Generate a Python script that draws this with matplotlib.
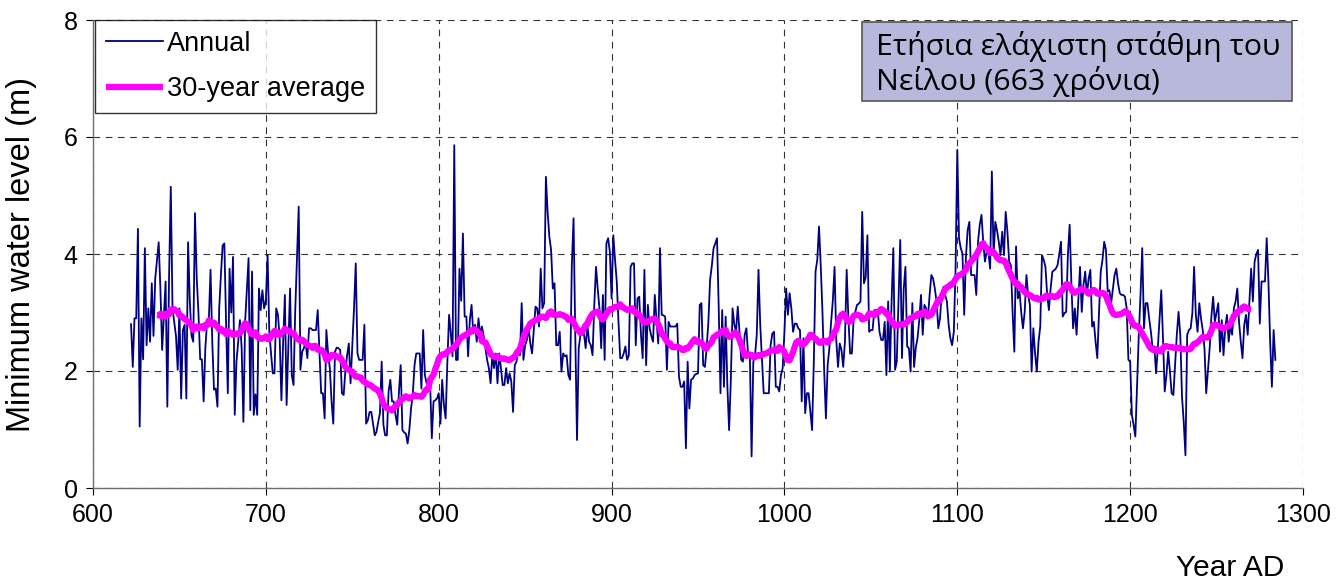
import numpy as np
import pandas as pd
import matplotlib
matplotlib.use("Agg")
import matplotlib.pyplot as plt
from matplotlib.patches import Rectangle

# Annual minimum water level of the Nile (m), years 622-1284
years = list(range(622, 1285))
levels = [
    2.8, 2.07, 2.9, 2.9, 4.43, 1.05, 2.9, 2.2, 4.1, 2.44,      # 622
    3.07, 2.5, 3.5, 2.6, 3.58, 3.9, 4.2, 3.4, 2.36, 2.96,      # 632
    3.53, 1.39, 3.6, 5.15, 3.07, 2.84, 2.6, 2.02, 3.07, 1.53,  # 642
    2.7, 2.79, 1.53, 4.2, 3.2, 2.6, 2.5, 4.7, 3.6, 3.0,        # 652
    2.2, 2.2, 1.48, 2.4, 2.84, 2.87, 3.73, 2.5, 1.68, 1.7,     # 662
    1.39, 3.07, 3.64, 4.15, 4.18, 2.8, 1.62, 3.75, 3.0, 3.95,  # 672
    1.25, 2.16, 2.5, 2.87, 2.39, 1.13, 2.84, 3.4, 3.93, 1.33,  # 682
    3.7, 1.25, 1.6, 1.25, 3.41, 3.04, 3.38, 3.07, 3.2, 3.98,   # 692
    2.67, 2.3, 1.96, 1.96, 3.07, 2.96, 2.56, 1.5, 2.5, 3.3,    # 702
    1.42, 2.4, 3.41, 1.93, 1.76, 3.04, 3.9, 4.81, 2.02, 2.33,  # 712
    2.39, 2.5, 2.22, 2.73, 2.73, 2.7, 2.7, 2.7, 3.04, 2.33,    # 722
    1.62, 1.62, 1.19, 2.7, 2.3, 2.05, 1.48, 1.1, 2.33, 2.4,    # 732
    2.39, 2.36, 1.62, 1.59, 2.0, 2.27, 2.47, 1.79, 2.44, 3.07, # 742
    3.84, 2.3, 2.19, 2.19, 2.19, 2.79, 1.1, 1.16, 1.3, 1.3,    # 752
    1.1, 0.9, 0.96, 1.13, 1.28, 2.16, 1.08, 0.9, 0.9, 1.65,    # 762
    1.85, 1.48, 1.48, 1.25, 1.08, 1.65, 2.1, 0.99, 0.95, 0.93, # 772
    0.76, 0.99, 1.36, 1.6, 2.1, 2.3, 2.3, 2.3, 1.7, 2.7,       # 782
    1.93, 1.79, 1.65, 1.82, 0.85, 1.48, 1.5, 1.53, 1.62, 1.1,  # 792
    1.85, 1.42, 1.19, 2.16, 2.96, 2.64, 2.25, 5.86, 2.19, 2.19,  # 802
    3.75, 3.2, 4.35, 2.93, 2.93, 2.25, 2.87, 3.13, 2.64, 2.79,   # 812
    2.5, 2.9, 2.62, 2.76, 2.6, 2.39, 2.19, 2.05, 1.79, 2.27,     # 822
    2.05, 2.3, 1.79, 2.3, 2.05, 1.76, 1.76, 2.05, 1.79, 1.96,    # 832
    1.82, 1.3, 2.1, 2.16, 2.39, 2.27, 3.16, 2.19, 2.44, 2.53,    # 842
    2.73, 2.47, 2.3, 2.7, 3.1, 3.07, 2.76, 3.75, 3.07, 3.16,     # 852
    5.32, 4.72, 4.3, 4.07, 3.41, 3.5, 2.44, 2.44, 2.67, 1.99,    # 862
    2.3, 2.25, 2.27, 1.93, 1.85, 3.8, 4.61, 2.62, 0.82, 2.39,    # 872
    2.62, 2.62, 2.64, 2.39, 2.79, 2.5, 2.44, 2.27, 3.13, 3.78,   # 882
    3.4, 3.07, 2.39, 3.3, 2.19, 4.18, 4.27, 4.04, 3.24, 4.32,    # 892
    3.9, 3.53, 2.84, 2.22, 2.22, 2.3, 2.42, 2.19, 2.27, 3.78,    # 902
    3.84, 3.84, 2.44, 3.24, 3.27, 2.62, 2.22, 3.73, 2.1, 3.13,   # 912
    2.73, 2.6, 2.5, 3.3, 2.87, 2.47, 4.1, 2.96, 2.95, 2.93,      # 922
    2.02, 2.84, 2.76, 2.76, 2.76, 2.76, 2.81, 1.9, 1.73, 1.73,   # 932
    1.82, 0.68, 2.16, 1.36, 1.85, 1.87, 1.93, 1.95, 1.96, 3.13,  # 942
    3.16, 2.1, 2.07, 2.39, 2.84, 3.56, 3.8, 4.1, 4.18, 4.27,     # 952
    3.07, 1.62, 3.04, 1.73, 2.93, 1.73, 0.99, 1.85, 3.07, 2.8,   # 962
    2.67, 3.1, 2.67, 2.19, 2.16, 2.62, 2.73, 2.27, 2.27, 0.54,   # 972
    2.16, 2.27, 2.62, 3.73, 2.79, 2.2, 1.62, 1.62, 1.62, 1.62,   # 982
    2.44, 2.64, 2.67, 1.73, 1.73, 1.65, 1.93, 2.05, 2.67, 3.41,  # 992
    2.96, 3.33, 3.07, 2.67, 2.81, 2.81, 2.73, 2.7, 1.48, 2.56,   # 1002
    1.28, 1.62, 1.62, 1.3, 0.99, 2.16, 3.7, 3.9, 4.47, 3.81,     # 1012
    3.01, 2.0, 1.19, 2.1, 2.39, 2.84, 3.2, 3.78, 2.53, 2.07,     # 1022
    2.47, 2.36, 2.07, 2.5, 3.73, 2.9, 2.3, 2.3, 2.87, 3.01,      # 1032
    3.13, 3.15, 3.19, 4.72, 3.5, 3.6, 4.32, 2.67, 2.7, 2.7,      # 1042
    3.04, 3.04, 3.04, 2.67, 2.53, 2.53, 2.84, 1.93, 3.19, 1.99,  # 1052
    3.2, 4.1, 2.02, 2.16, 3.2, 4.24, 2.22, 3.4, 3.78, 2.42,      # 1062
    2.39, 1.99, 3.16, 2.07, 2.4, 2.56, 2.87, 3.3, 2.62, 3.13,    # 1072
    3.07, 2.9, 3.3, 3.64, 3.58, 3.41, 3.19, 2.73, 2.9, 3.33,     # 1082
    3.44, 3.3, 3.19, 2.79, 2.56, 2.44, 2.67, 3.75, 5.78, 4.27,   # 1092
    4.1, 4.01, 2.96, 3.95, 4.41, 4.55, 3.64, 3.64, 3.64, 3.3,    # 1102
    4.21, 4.5, 4.67, 4.21, 3.87, 4.04, 4.04, 3.75, 5.41, 3.98,   # 1112
    4.55, 4.4, 4.21, 3.98, 4.38, 3.98, 4.72, 4.38, 3.87, 3.81,   # 1122
    3.0, 2.33, 4.13, 3.24, 3.36, 3.0, 2.73, 3.01, 3.64, 3.3,     # 1132
    3.13, 1.99, 2.73, 2.3, 1.99, 2.5, 2.76, 3.98, 3.9, 3.78,     # 1142
    3.3, 3.04, 3.41, 3.7, 3.72, 3.75, 3.81, 4.0, 4.21, 2.93,     # 1152
    2.99, 3.01, 4.0, 4.5, 3.5, 2.73, 3.07, 2.62, 3.2, 3.78,      # 1162
    3.01, 3.47, 3.7, 3.3, 3.58, 3.73, 2.76, 2.84, 2.5, 2.22,     # 1172
    3.01, 3.7, 3.9, 4.21, 4.07, 3.36, 3.38, 3.16, 3.4, 3.64,     # 1182
    3.75, 3.5, 3.33, 3.3, 3.3, 3.27, 3.07, 2.19, 2.16, 1.25,     # 1192
    1.08, 0.88, 1.76, 2.62, 3.3, 4.1, 2.73, 3.16, 3.16, 2.9,     # 1202
    2.67, 2.39, 2.42, 1.96, 2.39, 2.9, 3.38, 2.56, 1.65, 1.93,   # 1212
    2.33, 2.0, 1.62, 1.59, 2.1, 2.62, 3.01, 2.62, 1.56, 1.13,    # 1222
    0.56, 2.62, 2.7, 2.73, 2.99, 3.78, 2.96, 2.67, 3.16, 2.9,    # 1232
    2.7, 2.39, 1.62, 2.0, 2.39, 2.93, 3.27, 2.84, 3.0, 3.16,     # 1242
    2.33, 2.87, 2.27, 2.73, 2.96, 2.5, 2.79, 2.62, 3.07, 3.19,   # 1252
    3.41, 2.84, 2.5, 2.22, 2.79, 2.96, 2.62, 3.2, 3.75, 3.19,    # 1262
    3.87, 4.0, 4.07, 2.81, 3.53, 3.53, 3.53, 4.27, 3.53, 2.5,    # 1272
    1.73, 2.7, 2.19,                                             # 1282
]
window_years = 30

x_ticks = [600, 700, 800, 900, 1000, 1100, 1200, 1300]
y_ticks = [0, 2, 4, 6, 8]
series_labels = ["Annual", "30-year average"]
y_label = "Minimum water level (m)"
x_label = "Year AD"
note_lines = ["Ετήσια ελάχιστη στάθμη του", "Νείλου (663 χρόνια)"]

plt.rcParams['font.family'] = ['Liberation Sans', 'DejaVu Sans']

s = pd.Series(levels, index=years)
avg = s.rolling(window_years, center=True).mean()

fig = plt.figure(figsize=(13.36, 5.8), dpi=100)
ax = fig.add_axes([93/1336, 1 - 488/580, (1303 - 93)/1336, (488 - 20)/580])

ax.plot(s.index, s.values, color='#000080', lw=1.3, label=series_labels[0], zorder=3)
ax.plot(avg.index, avg.values, color='#FF00FF', lw=4.5, label=series_labels[1],
        zorder=4, solid_capstyle='butt')

ax.set_xlim(600, 1300)
ax.set_ylim(0, 8)
ax.set_xticks(x_ticks)
ax.set_yticks(y_ticks)
ax.tick_params(labelsize=18, length=5, direction='out', pad=6)
ax.grid(True, color='#333333', linestyle=(0, (6, 5)), lw=0.8)

for side in ['top', 'right']:
    ax.spines[side].set_visible(False)
for side in ['left', 'bottom']:
    ax.spines[side].set_linewidth(1.0)
    ax.spines[side].set_color('#6f6f6f')

fig.text(22/1336, 1 - 255/580, y_label, fontsize=23.5, rotation=90,
         ha='center', va='center')
fig.text(1284/1336, 1 - 568/580, x_label, fontsize=21.5, ha='right', va='center')

leg = ax.legend(loc='upper left', fontsize=19.5, frameon=True, fancybox=False,
                edgecolor='black', borderpad=0.4, handlelength=2.1,
                handletextpad=0.15, labelspacing=0.72, borderaxespad=0.0,
                bbox_to_anchor=(0.0015, 1.0))
leg.get_frame().set_linewidth(1.0)
leg.set_zorder(6)

ax.add_patch(Rectangle((0.6355, 0.8269), 0.3554, 0.1688, transform=ax.transAxes,
                       facecolor='#B8B8DC', edgecolor='#555555', lw=1.2,
                       zorder=7, clip_on=False))
for txt, yb in zip(note_lines, [0.9252, 0.8504]):
    ax.text(0.6471, yb, txt, transform=ax.transAxes, fontsize=21.8,
            family=['Open Sans', 'DejaVu Sans'], ha='left', va='baseline',
            zorder=8)

fig.savefig('out.png', dpi=100)
